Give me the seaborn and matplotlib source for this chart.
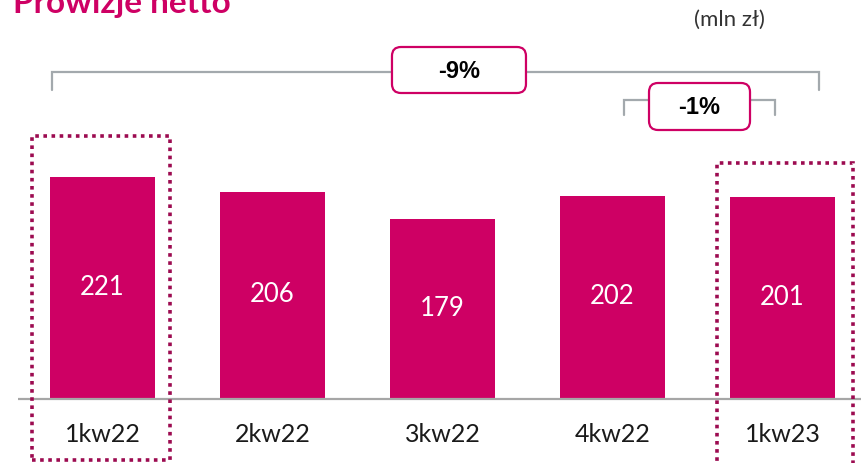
"""Prowizje netto - quarterly bar chart."""
import matplotlib
matplotlib.use("Agg")
import matplotlib.pyplot as plt
import matplotlib.transforms as mtransforms
from matplotlib.patches import FancyBboxPatch, Rectangle
import pandas as pd
import seaborn as sns

quarters = ["1kw22", "2kw22", "3kw22", "4kw22", "1kw23"]
commissions = [221, 206, 179, 202, 201]
changes = ["-9%", "-1%"]

BAR = "#CE0064"
DOTS = "#9C0B50"
GREY = "#A3A9AD"

W, H, DPI = 8.61, 4.63, 100

sns.set_theme(style="white")
plt.rcParams["font.family"] = ["Lato", "DejaVu Sans"]

df = pd.DataFrame({"quarter": quarters, "value": commissions})

fig = plt.figure(figsize=(W, H), dpi=DPI)
ax = fig.add_axes([0, 0, 1, 1])
sns.barplot(data=df, x="quarter", y="value", color=BAR, width=0.62,
            saturation=1, edgecolor="none", ax=ax)

# 1 x unit = 170 px, 1 y unit = 1 px
ax.set_xlim(-0.603, 4.462)
ax.set_ylim(-65, 398)
ax.set_axis_off()

# baseline
ax.plot([-0.5, 4.462], [-1, -1], color="#A6A6A6", lw=1.6, zorder=3,
        solid_capstyle="butt")

for i, (q, v) in enumerate(zip(quarters, commissions)):
    ax.text(i, v / 2, str(v), ha="center", va="center", color="white",
            fontsize=18.5, zorder=4)
    ax.text(i, -37, q, ha="center", va="center", color="#1A1A1A",
            fontsize=18)

# dotted highlight frames around first and last quarter
dot_kw = dict(fill=False, edgecolor=DOTS, lw=2.6, linestyle=(0, (1, 1.25)),
              zorder=5, clip_on=False)
first, last = 0, len(quarters) - 1
ax.add_patch(Rectangle((first - 0.415, -62), 0.812,
                       commissions[first] + 41 + 62, **dot_kw))
ax.add_patch(Rectangle((last - 0.385, -80), 0.80,
                       commissions[last] + 34 + 80, **dot_kw))

# brackets
brk = dict(color=GREY, lw=1.6, zorder=2, solid_joinstyle="miter")
ax.plot([-0.3, -0.3, 4.215, 4.215], [308, 326, 326, 308], **brk)
ax.plot([3.068, 3.068, 3.956, 3.956], [283, 298, 298, 283], **brk)


def change_box(xc, yc, w_px, h_px, label):
    x0, y0 = ax.transData.transform((xc, yc))
    box = FancyBboxPatch((x0 - w_px / 2, y0 - h_px / 2), w_px, h_px,
                         boxstyle="round,pad=0,rounding_size=9",
                         transform=mtransforms.IdentityTransform(),
                         facecolor="white", edgecolor=BAR, lw=1.6, zorder=6)
    ax.add_artist(box)
    ax.text(xc, yc - 1, label, ha="center", va="center", fontsize=17,
            fontweight="bold", color="black", family="Liberation Sans",
            zorder=7)


change_box(2.097, 328, 134, 46, changes[0])
change_box(3.512, 291.5, 101, 47, changes[1])

fig.text(13 / 861, 1 - 13 / 463, "Prowizje netto", ha="left", va="baseline",
         fontsize=24, fontweight="bold", color=BAR)
fig.text(729 / 861, 1 - 20 / 463, "(mln zł)", ha="center", va="center",
         fontsize=16, color="#333333")

fig.savefig("out.png", dpi=DPI)
